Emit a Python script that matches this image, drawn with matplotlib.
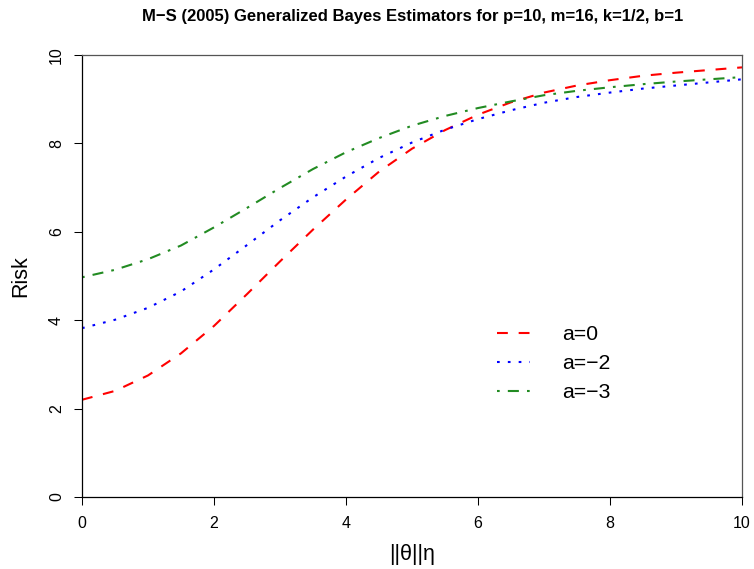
import numpy as np
import matplotlib
matplotlib.use("Agg")
import matplotlib.pyplot as plt

plt.rcParams['font.family'] = ['Liberation Sans', 'DejaVu Sans']

# risk curves, at ||theta|| = 0, 0.5, ..., 10
theta = np.arange(0, 10.5, 0.5)
risk_a0 = [2.20, 2.40, 2.75, 3.25, 3.87, 4.59, 5.33, 6.05, 6.73, 7.36, 7.88,
           8.30, 8.65, 8.93, 9.15, 9.31, 9.43, 9.53, 9.60, 9.66, 9.72]
risk_a2 = [3.82, 4.01, 4.28, 4.65, 5.15, 5.70, 6.26, 6.78, 7.25, 7.67, 8.02,
           8.31, 8.55, 8.75, 8.92, 9.05, 9.15, 9.24, 9.31, 9.38, 9.45]
risk_a3 = [4.97, 5.14, 5.38, 5.69, 6.10, 6.54, 6.99, 7.42, 7.80, 8.12, 8.40,
           8.62, 8.80, 8.95, 9.09, 9.19, 9.27, 9.34, 9.40, 9.45, 9.50]
labels = ['a=0', 'a=\u22122', 'a=\u22123']
ticks = [0, 2, 4, 6, 8, 10]

fig = plt.figure(figsize=(7.54, 5.69), dpi=100)
ax = fig.add_axes([82 / 754, 1 - 497 / 569, 660 / 754, 442 / 569])

lw = 1.5
ax.plot(theta, risk_a0, color='red', lw=lw, dashes=(5.2, 5.2), label=labels[0])
ax.plot(theta, risk_a2, color='blue', lw=lw, dashes=(1.3, 3.9), label=labels[1])
ax.plot(theta, risk_a3, color='#228B22', lw=lw, dashes=(1.3, 3.9, 5.3, 3.9), label=labels[2])

ax.set_xlim(0, 10)
ax.set_ylim(0, 10)
ax.set_xticks(ticks)
ax.set_yticks(ticks)
ax.set_yticklabels([str(t) for t in ticks], rotation=90, va='center')
ax.tick_params(direction='out', length=6, width=0.75, labelsize=11.5, colors='black')
ax.tick_params(axis='x', pad=8)
ax.tick_params(axis='y', pad=7)
for side in ['left', 'bottom']:
    ax.spines[side].set_color('black')
    ax.spines[side].set_linewidth(0.9)
for side in ['top', 'right']:
    ax.spines[side].set_color('#555555')
    ax.spines[side].set_linewidth(0.9)

ax.set_xlabel('||\u03b8||\u03b7', fontsize=15.5, labelpad=9)
ax.set_ylabel('Risk', fontsize=15.5, labelpad=13)
fig.text(413 / 754, 1 - 17 / 569, 'M\u2212S (2005) Generalized Bayes Estimators for p=10, m=16, k=1/2, b=1',
         ha='center', va='center', fontsize=12, fontweight='bold')

ax.legend(loc='upper left', bbox_to_anchor=(497 / 754, 1 - 325 / 569),
          bbox_transform=fig.transFigure, frameon=False, fontsize=15.3,
          handlelength=1.55, handletextpad=1.5, labelspacing=0.48,
          borderpad=0, borderaxespad=0)

fig.savefig('out.png', dpi=100)
